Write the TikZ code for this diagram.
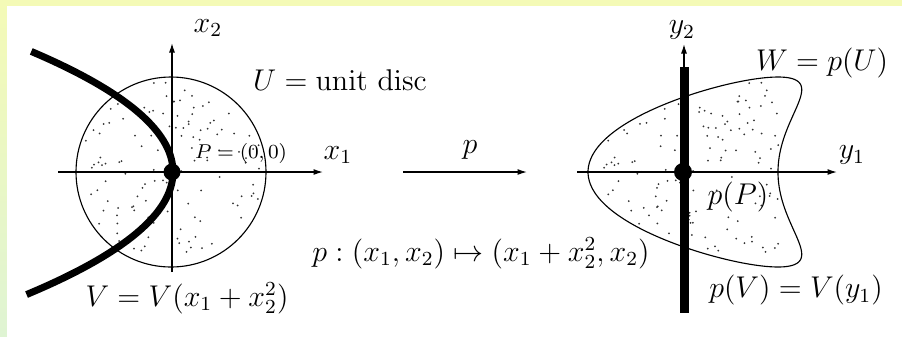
\documentclass[tikz,border=0pt]{standalone}
\usetikzlibrary{arrows.meta}
\definecolor{bandyellow}{HTML}{F4FAB6}
\definecolor{bandgreen}{HTML}{DFF4D3}
\tikzset{
  axis/.style={line width=0.5pt,-{Latex[length=3.8pt,width=2.4pt]}},
  thin outline/.style={line width=0.45pt},
  thick curve/.style={line width=2.8pt},
  thick line/.style={line width=3.6pt},
  speck/.style={fill=black!80},
  lbl/.style={font=\large,inner sep=0pt},
  small lbl/.style={font=\footnotesize,inner sep=0pt}
}
\begin{document}
\begin{tikzpicture}[x=0.4pt,y=-0.4pt]
\useasboundingbox (0,0) rectangle (902,336);
% background and frame bands
\fill[white] (0,0) rectangle (902,336);
\fill[bandyellow] (0,0) rectangle (902,6);
\shade[top color=bandyellow,bottom color=bandgreen] (0,0) rectangle (7,336);
% key points
\coordinate (O1) at (172,172);
\coordinate (C1) at (171,172);
\coordinate (O2) at (683,172);
% speckles in the disc and in its image
\pgfmathsetseed{11}
\foreach \i in {1,...,130}{
  \pgfmathsetmacro\rr{sqrt(rnd)*0.97}
  \pgfmathsetmacro\tt{360*rnd}
  \pgfmathsetmacro\ua{\rr*cos(\tt)}
  \pgfmathsetmacro\ub{\rr*sin(\tt)}
  \fill[speck] (171+95*\ua,172-95*\ub) circle[radius=1];
  \fill[speck] (683+95*\ua+95*\ub*\ub,172-95*\ub) circle[radius=1];
}
% left picture
\draw[thin outline] (C1) circle[radius=95];
\coordinate (x1s) at (58,172);
\coordinate (x1e) at (323,172);
\coordinate (x2s) at (172,272);
\coordinate (x2e) at (172,43);
\draw[axis] (x1s) -- (x1e);
\draw[axis] (x2s) -- (x2e);
\draw[thick curve] plot[domain=-1.29:1.27,samples=80,smooth] ({173-88*(\x)^2},{172-95*\x});
\fill (O1) circle[radius=8.5];
\node[lbl] (lx2) at (208,28) {$x_2$};
\node[lbl] (lx1) at (338,155) {$x_1$};
\node[lbl] (lU) at (340,80) {$U=\mathrm{unit\ disc}$};
\node[small lbl] (lP) at (241,153) {$P=(0,0)$};
\node[lbl] (lV) at (187,298) {$V=V(x_1+x_2^2)$};
% map arrow
\coordinate (pa) at (403,172);
\coordinate (pb) at (527,172);
\draw[axis] (pa) -- (pb);
\node[lbl] (lp) at (470,150) {$p$};
\node[lbl] (lmap) at (481,253) {$p:(x_1,x_2)\mapsto(x_1+x_2^2,x_2)$};
% right picture
\draw[thin outline] plot[domain=0:360,samples=160,smooth] ({683+95*(cos(\x)+sin(\x)^2)},{172-95*sin(\x)}) -- cycle;
\coordinate (y1s) at (577,172);
\coordinate (y1e) at (837,172);
\coordinate (y2s) at (684,300);
\coordinate (y2e) at (684,44);
\draw[axis] (y1s) -- (y1e);
\draw[axis] (y2s) -- (y2e);
\coordinate (vt) at (684,67);
\coordinate (vb) at (684,313);
\draw[thick line] (vt) -- (vb);
\fill (O2) circle[radius=9];
\node[lbl] (ly2) at (682,30) {$y_2$};
\node[lbl] (ly1) at (852,155) {$y_1$};
\node[lbl] (lW) at (822,63) {$W=p(U)$};
\node[lbl] (lpP) at (738,197) {$p(P)$};
\node[lbl] (lpV) at (796,290) {$p(V)=V(y_1)$};
\end{tikzpicture}
\end{document}
